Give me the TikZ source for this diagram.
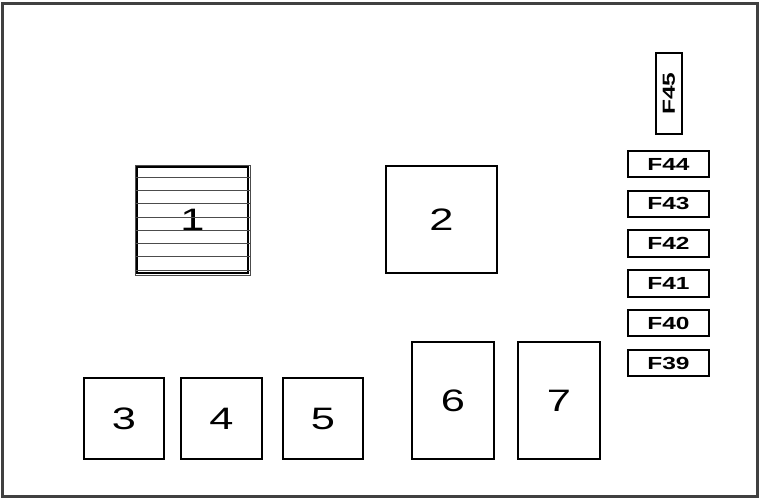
\documentclass[tikz,border=0pt]{standalone}
\usepackage{fontspec}
\setmainfont{Liberation Sans}
\usepackage{graphicx}
\usetikzlibrary{positioning}
\newcommand{\wide}[1]{\scalebox{1.4}[1]{#1}}
\tikzset{
	node distance = 11.3pt,
	frame/.style={
		draw=black!75,
		line width=3pt
	},
	relay/.style={
		draw,
		line width=1.2pt,
		inner sep=0pt,
		font=\fontsize{31}{31}\selectfont
	},
	fuse/.style={
		draw,
		line width=2pt,
		inner sep=0pt,
		minimum width=81pt,
		minimum height=26.5pt,
		font=\fontsize{17.5}{17.5}\selectfont\bfseries
	},
	stripe/.style={
		line width=.6pt,
		black!70
	}
}

\begin{document}
\begin{tikzpicture}[x=1pt, y=-1pt]
\useasboundingbox (0,0) rectangle (760,499);
\draw[frame] (2.5,3.5) rectangle (757.5,496.5);

\node[relay, draw=black!70, line width=.8pt, minimum width=115pt, minimum height=110pt] (r1) at (192.5,220) {\wide{1}};
\draw[line width=1.3pt] ([shift={(2.5pt,-2.5pt)}]r1.north west) rectangle ([shift={(-2.5pt,2.5pt)}]r1.south east);
\foreach \k in {1,...,8}
	\draw[stripe] ([yshift={-13.3pt*\k+1pt}]r1.north west) -- ([yshift={-13.3pt*\k+1pt}]r1.north east);
\node[relay, minimum width=111pt, minimum height=107pt] (r2) at (441.5,219.5) {\wide{2}};
\node[relay, minimum width=80pt, minimum height=81pt] (r3) at (124,418.5) {\wide{3}};
\node[relay, minimum width=81pt, minimum height=81pt] (r4) at (221.5,418.5) {\wide{4}};
\node[relay, minimum width=80pt, minimum height=81pt] (r5) at (323,418.5) {\wide{5}};
\node[relay, minimum width=82pt, minimum height=117pt] (r6) at (453,400.5) {\wide{6}};
\node[relay, minimum width=82pt, minimum height=117pt] (r7) at (559,400.5) {\wide{7}};

\node[fuse, rotate=90] (f45) at (669,93.5) {\wide{F45}};
\node[fuse] (f44) at (668.5,164) {\wide{F44}};
\node[fuse, below=of f44] (f43) {\wide{F43}};
\node[fuse, below=of f43] (f42) {\wide{F42}};
\node[fuse, below=of f42] (f41) {\wide{F41}};
\node[fuse, below=of f41] (f40) {\wide{F40}};
\node[fuse, below=of f40] (f39) {\wide{F39}};
\end{tikzpicture}
\end{document}
